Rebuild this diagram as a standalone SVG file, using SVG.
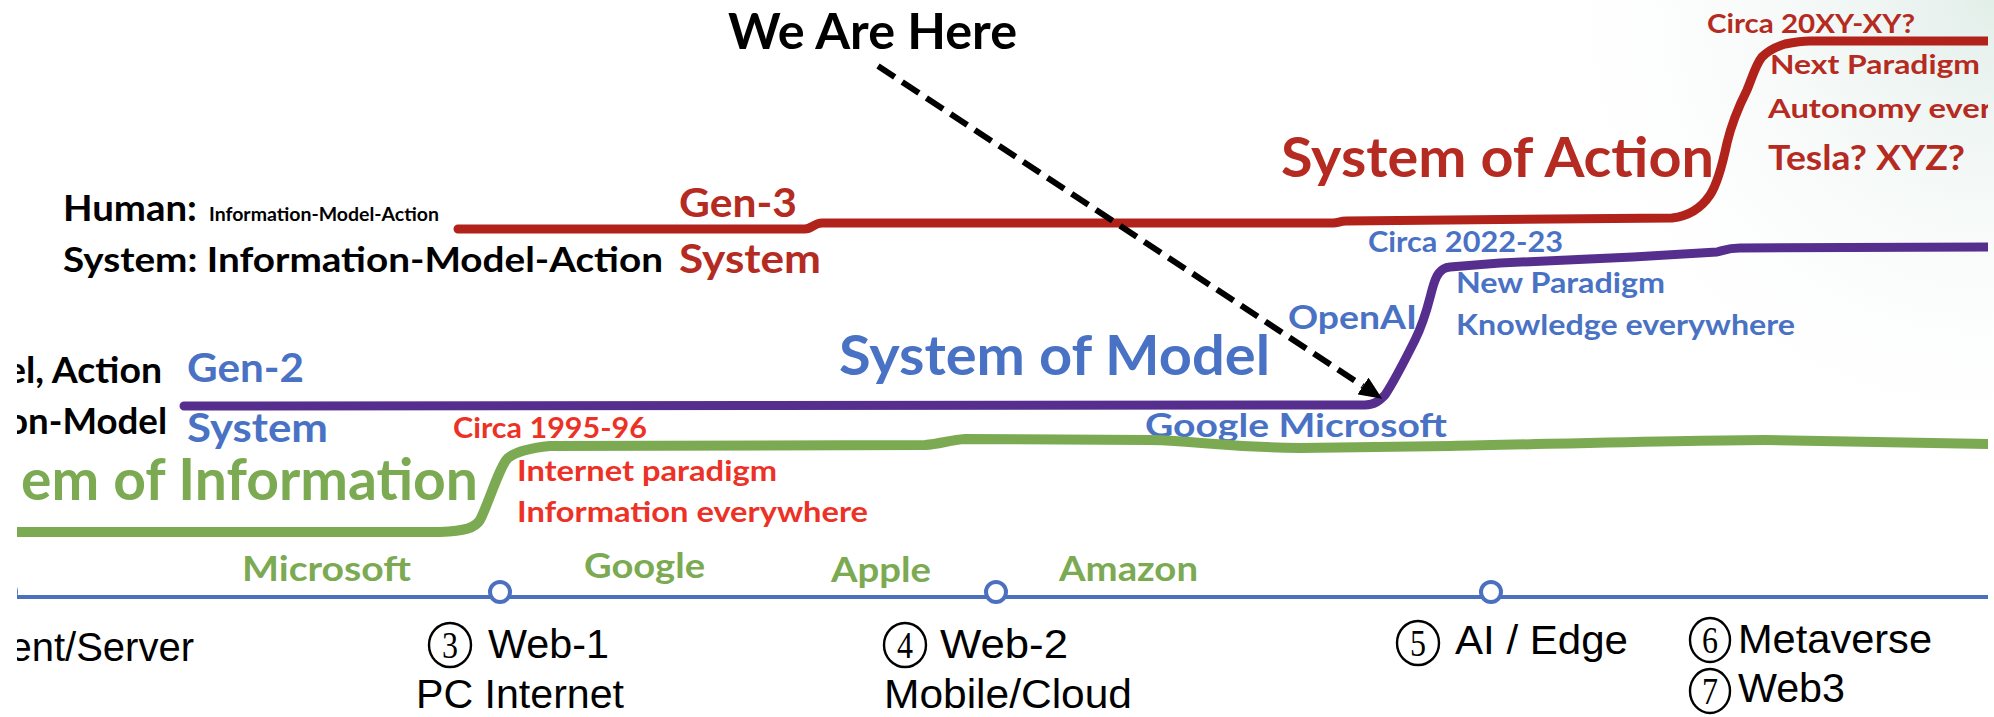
<svg xmlns="http://www.w3.org/2000/svg" width="1994" height="717" viewBox="0 0 1994 717">
<style>
.cal{font-family:Lato,"Open Sans","Liberation Sans",sans-serif;font-weight:700}
.ari{font-family:"Liberation Sans",Arial,sans-serif;font-weight:400;fill:#000}
.dig{font-family:"Liberation Serif","Times New Roman",serif;font-weight:400;fill:#000;text-anchor:middle}
.ring{fill:none;stroke:#000;stroke-width:2.4}
.blk{fill:#000}
.dred{fill:#B52B22}
.bred{fill:#EC3226}
.blue{fill:#4A72C4}
.grn{fill:#7BAA53}
.curve{fill:none;stroke-linecap:round;stroke-linejoin:round}
.node{fill:#fff;stroke:#4C70C0;stroke-width:4}
</style>
<defs>
<clipPath id="clip"><rect x="17" y="0" width="1971" height="717"/></clipPath>
<radialGradient id="glow" cx="1994" cy="0" r="480" gradientUnits="userSpaceOnUse">
<stop offset="0" stop-color="#E2EEE9"/>
<stop offset="1" stop-color="#FFFFFF" stop-opacity="0"/>
</radialGradient>
<marker id="ah" markerUnits="userSpaceOnUse" markerWidth="24" markerHeight="20" viewBox="0 0 24 20" refX="0" refY="10" orient="auto">
<path d="M0,0 L23,10 L0,20 Z" fill="#000"/>
</marker>
</defs>
<rect x="0" y="0" width="1994" height="717" fill="#fff"/>
<rect x="1500" y="0" width="494" height="480" fill="url(#glow)"/>
<g clip-path="url(#clip)">
<g id="gen3">
<path class="curve" stroke="#B1231A" stroke-width="9" d="M458,229 L805,229 C812,229 814,223 822,223 L1333,223 C1338,223 1340,221 1346,221 L1672,218 C1690,216 1702,207 1710,195 C1718,183 1723,162 1727,143 C1731,126 1740,104 1747,90 C1752,78 1756,64 1762,57 C1768,51 1775,47 1785,44 C1795,42 1800,41 1810,41 L1995,41"/>
<text class="cal dred" x="679" y="217" font-size="40" textLength="118" lengthAdjust="spacingAndGlyphs">Gen-3</text>
<text class="cal dred" x="679" y="273" font-size="40" textLength="142" lengthAdjust="spacingAndGlyphs">System</text>
<text class="cal dred" x="1281" y="177" font-size="55" textLength="433" lengthAdjust="spacingAndGlyphs">System of Action</text>
<text class="cal dred" x="1707" y="33" font-size="27" textLength="208" lengthAdjust="spacingAndGlyphs">Circa 20XY-XY?</text>
<text class="cal dred" x="1770" y="74" font-size="27" textLength="210" lengthAdjust="spacingAndGlyphs">Next Paradigm</text>
<text class="cal dred" x="1768" y="118" font-size="27" textLength="224" lengthAdjust="spacingAndGlyphs">Autonomy ever</text>
<text class="cal dred" x="1768" y="170" font-size="35" textLength="197" lengthAdjust="spacingAndGlyphs">Tesla? XYZ?</text>
</g>
<g id="human-system">
<text class="cal blk" x="63" y="221" font-size="36" textLength="134" lengthAdjust="spacingAndGlyphs">Human:</text>
<text class="cal blk" x="209" y="221" font-size="18.5" textLength="230" lengthAdjust="spacingAndGlyphs">Information-Model-Action</text>
<text class="cal blk" x="63" y="272" font-size="35" textLength="600" lengthAdjust="spacingAndGlyphs">System: Information-Model-Action</text>
<text class="cal blk" x="6" y="383" font-size="36" textLength="156" lengthAdjust="spacingAndGlyphs">el, Action</text>
<text class="cal blk" x="7" y="434" font-size="36" textLength="160" lengthAdjust="spacingAndGlyphs">on-Model</text>
</g>
<g id="gen2">
<path class="curve" stroke="#562F8E" stroke-width="9" d="M184,406 L1365,405 C1375,405 1380,400 1385,395 C1395,380 1405,360 1415,340 C1425,320 1428,305 1432,290 C1436,275 1440,268 1450,267 L1500,263 L1633,257 L1717,252 C1725,250 1728,248 1740,248 L1995,247"/>
<text class="cal blue" x="187" y="382" font-size="40" textLength="117" lengthAdjust="spacingAndGlyphs">Gen-2</text>
<text class="cal blue" x="187" y="442" font-size="40" textLength="141" lengthAdjust="spacingAndGlyphs">System</text>
<text class="cal blue" x="839" y="375" font-size="55" textLength="431" lengthAdjust="spacingAndGlyphs">System of Model</text>
<text class="cal blue" x="1368" y="252" font-size="28" textLength="195" lengthAdjust="spacingAndGlyphs">Circa 2022-23</text>
<text class="cal blue" x="1456" y="293" font-size="28" textLength="209" lengthAdjust="spacingAndGlyphs">New Paradigm</text>
<text class="cal blue" x="1456" y="335" font-size="28" textLength="339" lengthAdjust="spacingAndGlyphs">Knowledge everywhere</text>
<text class="cal blue" x="1288" y="329" font-size="32" textLength="129" lengthAdjust="spacingAndGlyphs">OpenAI</text>
<text class="cal blue" x="1145" y="437" font-size="33" textLength="302" lengthAdjust="spacingAndGlyphs">Google Microsoft</text>
</g>
<g id="gen1">
<path class="curve" stroke="#7BAA53" stroke-width="10" d="M10,532 L440,532 C465,531 475,528 480,520 C488,505 500,465 508,458 C515,452 530,448 550,446 L925,445 C940,444 950,440 965,439 L1150,440 C1200,441 1220,447 1300,448 L1450,446 C1550,444 1700,440 1765,440 L1995,444"/>
<text class="cal grn" x="478" y="500" font-size="57" text-anchor="end">em of Information</text>
<text class="cal bred" x="453" y="438" font-size="28" textLength="194" lengthAdjust="spacingAndGlyphs">Circa 1995-96</text>
<text class="cal bred" x="517" y="481" font-size="28" textLength="260" lengthAdjust="spacingAndGlyphs">Internet paradigm</text>
<text class="cal bred" x="517" y="522" font-size="28" textLength="351" lengthAdjust="spacingAndGlyphs">Information everywhere</text>
<text class="cal grn" x="242" y="581" font-size="35" textLength="169" lengthAdjust="spacingAndGlyphs">Microsoft</text>
<text class="cal grn" x="584" y="578" font-size="35" textLength="121" lengthAdjust="spacingAndGlyphs">Google</text>
<text class="cal grn" x="831" y="582" font-size="35" textLength="100" lengthAdjust="spacingAndGlyphs">Apple</text>
<text class="cal grn" x="1059" y="581" font-size="35" textLength="139" lengthAdjust="spacingAndGlyphs">Amazon</text>
</g>
<g id="timeline">
<line x1="0" y1="597" x2="1995" y2="597" stroke="#4C70C0" stroke-width="4"/>
<circle class="node" cx="6" cy="592" r="10"/>
<circle class="node" cx="500" cy="592" r="10"/>
<circle class="node" cx="996" cy="592" r="10"/>
<circle class="node" cx="1491" cy="592" r="10"/>
</g>
<g id="era-client-server">
<text class="ari" x="194" y="661" font-size="40" text-anchor="end">ent/Server</text>
</g>
<g id="era-web1">
<ellipse class="ring" cx="450" cy="645" rx="21" ry="22"/>
<text class="dig" x="450" y="658" font-size="37" textLength="16" lengthAdjust="spacingAndGlyphs">3</text>
<text class="ari" x="488" y="658" font-size="40" textLength="121" lengthAdjust="spacingAndGlyphs">Web-1</text>
<text class="ari" x="416" y="708" font-size="40" textLength="208" lengthAdjust="spacingAndGlyphs">PC Internet</text>
</g>
<g id="era-web2">
<ellipse class="ring" cx="905" cy="645" rx="21" ry="22"/>
<text class="dig" x="905" y="658" font-size="37" textLength="16" lengthAdjust="spacingAndGlyphs">4</text>
<text class="ari" x="940" y="658" font-size="40" textLength="128" lengthAdjust="spacingAndGlyphs">Web-2</text>
<text class="ari" x="884" y="708" font-size="40" textLength="248" lengthAdjust="spacingAndGlyphs">Mobile/Cloud</text>
</g>
<g id="era-ai-edge">
<ellipse class="ring" cx="1418" cy="643" rx="21" ry="22"/>
<text class="dig" x="1418" y="656" font-size="37" textLength="16" lengthAdjust="spacingAndGlyphs">5</text>
<text class="ari" x="1455" y="654" font-size="40" textLength="173" lengthAdjust="spacingAndGlyphs">AI / Edge</text>
</g>
<g id="era-metaverse-web3">
<ellipse class="ring" cx="1710" cy="640" rx="20" ry="22"/>
<text class="dig" x="1710" y="653" font-size="37" textLength="16" lengthAdjust="spacingAndGlyphs">6</text>
<text class="ari" x="1738" y="653" font-size="40" textLength="194" lengthAdjust="spacingAndGlyphs">Metaverse</text>
<ellipse class="ring" cx="1710" cy="691" rx="20" ry="22"/>
<text class="dig" x="1710" y="704" font-size="37" textLength="16" lengthAdjust="spacingAndGlyphs">7</text>
<text class="ari" x="1738" y="702" font-size="40" textLength="107" lengthAdjust="spacingAndGlyphs">Web3</text>
</g>
</g>
<g id="we-are-here">
<text class="cal blk" x="728" y="49" font-size="50" textLength="289" lengthAdjust="spacingAndGlyphs">We Are Here</text>
</g>
<g id="connectors">
<line x1="878" y1="66" x2="1363" y2="386" stroke="#000" stroke-width="6" stroke-dasharray="20 9" marker-end="url(#ah)"/>
</g>
</svg>
